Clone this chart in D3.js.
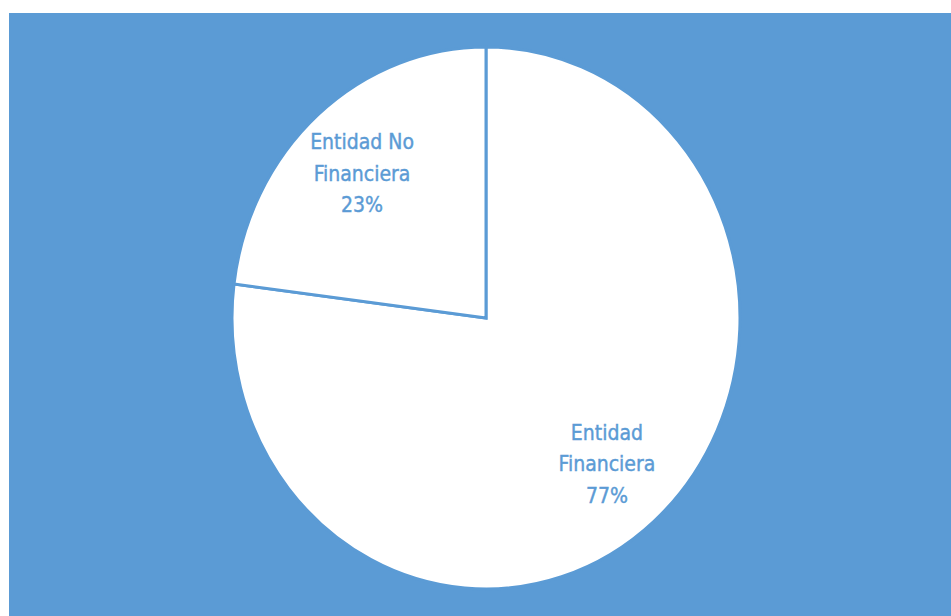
<!DOCTYPE html>
<html>
<head>
<meta charset="utf-8">
<script src="https://cdn.jsdelivr.net/npm/d3@7"></script>
<style>
  html, body { margin: 0; padding: 0; background: #ffffff; }
  svg { display: block; }
  .slice-label {
    font-family: "DejaVu Sans Condensed", "DejaVu Sans", sans-serif;
    font-size: 21px;
    fill: #5b9bd5;
    stroke: #5b9bd5;
    stroke-width: 0.4px;
  }
</style>
</head>
<body>
<div id="chart"></div>
<script>
// Chart data
const categories = ['Entidad Financiera', 'Entidad No Financiera'];
const shares = [77, 23];
const labelLines = [['Entidad', 'Financiera', '77%'], ['Entidad No', 'Financiera', '23%']];

const width = 951;
const height = 616;
const blue = '#5b9bd5';

const svg = d3.select('#chart')
    .append('svg')
    .attr('width', width)
    .attr('height', height);

// Plot area background
svg.append('rect')
    .attr('x', 9)
    .attr('y', 13)
    .attr('width', width - 9)
    .attr('height', height - 13)
    .attr('fill', blue);

// Pie is slightly stretched vertically in the original
const cx = 486, cy = 318;
const ry = 271, rx = 254;
const sx = rx / ry;

const pie = d3.pie().sort(null).value(d => d);
const arcs = pie(shares);

const arc = d3.arc().innerRadius(0).outerRadius(ry);
const labelArc = d3.arc().innerRadius(ry * 0.72).outerRadius(ry * 0.72);

const g = svg.append('g')
    .attr('transform', `translate(${cx},${cy}) scale(${sx},1)`);

g.selectAll('path')
    .data(arcs)
    .enter().append('path')
    .attr('d', arc)
    .attr('fill', '#ffffff')
    .attr('stroke', blue)
    .attr('stroke-width', 3)
    .attr('stroke-linejoin', 'miter')
    .attr('vector-effect', 'non-scaling-stroke');

// Labels
const lineGap = 31.5;
svg.selectAll('text.slice-label')
    .data(arcs)
    .enter().append('text')
    .attr('class', 'slice-label')
    .attr('text-anchor', 'middle')
    .each(function(d, i) {
        const [lx, ly] = labelArc.centroid(d);
        const x = cx + lx * sx - (i === 1 ? 3 : 0);
        const y = cy + ly + (i === 1 ? 2 : 0);
        const lines = labelLines[i];
        d3.select(this).selectAll('tspan')
            .data(lines)
            .enter().append('tspan')
            .attr('x', x)
            .attr('y', (t, j) => y + (j - 1) * lineGap + 7)
            .text(t => t);
    });
</script>
</body>
</html>
